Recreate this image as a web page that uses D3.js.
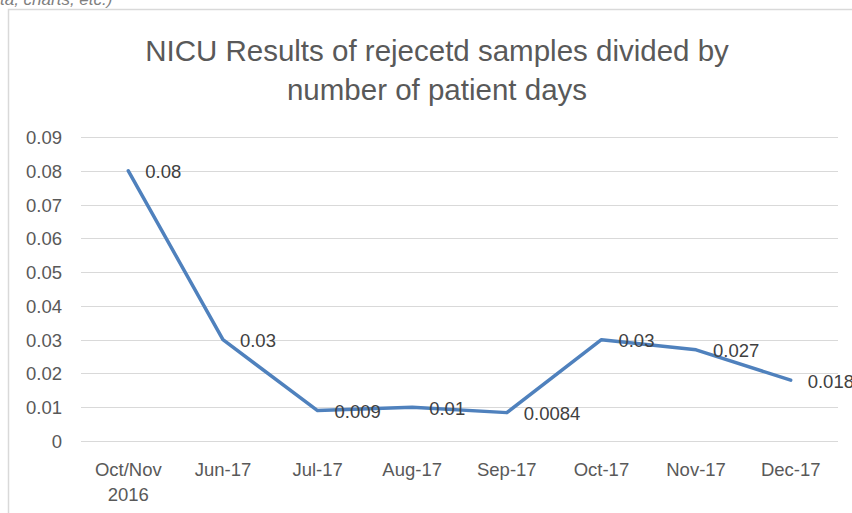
<!DOCTYPE html>
<html>
<head>
<meta charset="utf-8">
<script src="https://cdn.jsdelivr.net/npm/d3@7"></script>
<style>
  body { margin: 0; background: #fff; }
  svg { display: block; font-family: "Liberation Sans", Arial, sans-serif; }
</style>
</head>
<body>
<div id="chart"></div>
<script>
const categories = ["Oct/Nov\n2016", "Jun-17", "Jul-17", "Aug-17", "Sep-17", "Oct-17", "Nov-17", "Dec-17"];
const values = [0.08, 0.03, 0.009, 0.01, 0.0084, 0.03, 0.027, 0.018];
const valueLabels = ["0.08", "0.03", "0.009", "0.01", "0.0084", "0.03", "0.027", "0.018"];
const yTicks = [0, 0.01, 0.02, 0.03, 0.04, 0.05, 0.06, 0.07, 0.08, 0.09];
const titleLines = ["NICU Results of rejecetd samples divided by", "number of patient days"];

const width = 852, height = 513;
const plot = { left: 81, right: 838, top: 137, bottom: 441 };
const textColor = "#595959";

const svg = d3.select("#chart").append("svg")
    .attr("width", width)
    .attr("height", height);

// cut-off caption from the page above the chart
svg.append("text")
    .attr("x", 0)
    .attr("y", 5)
    .attr("font-size", 17)
    .attr("font-style", "italic")
    .attr("fill", "#7f7f7f")
    .text("ta, charts, etc.)");

// chart frame
svg.append("rect")
    .attr("x", 8.5)
    .attr("y", 9.5)
    .attr("width", 900)
    .attr("height", 520)
    .attr("fill", "none")
    .attr("stroke", "#d9d9d9")
    .attr("stroke-width", 1.5);

svg.append("g")
    .selectAll("text")
    .data(titleLines)
    .enter().append("text")
    .attr("x", 437)
    .attr("y", (d, i) => 61 + i * 39)
    .attr("text-anchor", "middle")
    .attr("font-size", 29.5)
    .attr("fill", textColor)
    .text(d => d);

const x = d3.scaleBand()
    .domain(categories)
    .range([plot.left, plot.right]);

const y = d3.scaleLinear()
    .domain([0, 0.09])
    .range([plot.bottom, plot.top]);

// gridlines
svg.append("g")
    .selectAll("line")
    .data(yTicks)
    .enter().append("line")
    .attr("x1", plot.left)
    .attr("x2", plot.right)
    .attr("y1", d => Math.round(y(d)) + 0.5)
    .attr("y2", d => Math.round(y(d)) + 0.5)
    .attr("stroke", "#d9d9d9")
    .attr("stroke-width", 1);

// y axis labels
const yAxis = svg.append("g")
    .attr("transform", `translate(${plot.left - 19},0)`)
    .call(d3.axisLeft(y).tickValues(yTicks).tickSize(0).tickPadding(0)
        .tickFormat(d => d === 0 ? "0" : d3.format(".2f")(d)));
yAxis.select(".domain").remove();
yAxis.selectAll("text")
    .attr("font-size", 18.5)
    .attr("font-family", "Liberation Sans, Arial, sans-serif")
    .attr("fill", textColor)
    .attr("dy", "0.35em");

// x axis labels
const xAxis = svg.append("g")
    .attr("transform", `translate(0,${plot.bottom})`)
    .call(d3.axisBottom(x).tickSize(0).tickFormat(""));
xAxis.select(".domain").remove();
xAxis.selectAll(".tick").each(function (d) {
    const t = d3.select(this).append("text")
        .attr("text-anchor", "middle")
        .attr("font-size", 18.5)
        .attr("fill", textColor);
    d.split("\n").forEach((line, i) => {
        t.append("tspan")
            .attr("x", 0)
            .attr("y", 35 + i * 25)
            .text(line);
    });
});

const cx = d => x(d) + x.bandwidth() / 2;

svg.append("path")
    .datum(values)
    .attr("fill", "none")
    .attr("stroke", "#4f81bd")
    .attr("stroke-width", 3.5)
    .attr("stroke-linejoin", "round")
    .attr("stroke-linecap", "round")
    .attr("d", d3.line()
        .x((d, i) => cx(categories[i]))
        .y(d => y(d)));

svg.append("g")
    .selectAll("text")
    .data(values)
    .enter().append("text")
    .attr("x", (d, i) => cx(categories[i]) + 17)
    .attr("y", d => y(d))
    .attr("dy", "0.4em")
    .attr("font-size", 18.5)
    .attr("fill", "#404040")
    .text((d, i) => valueLabels[i]);
</script>
</body>
</html>
